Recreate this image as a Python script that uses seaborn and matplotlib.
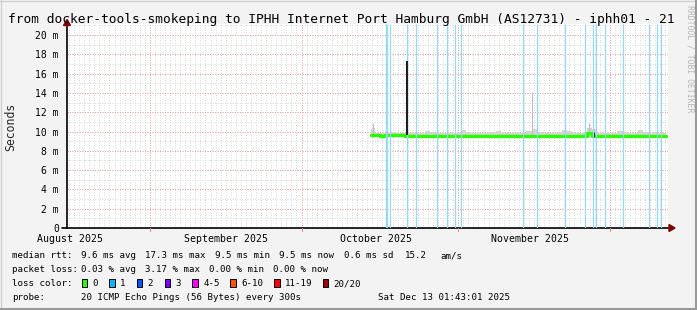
import numpy as np
import pandas as pd
import matplotlib
matplotlib.use("Agg")
import matplotlib.pyplot as plt
from matplotlib.patches import Polygon, Rectangle
from matplotlib.lines import Line2D
import seaborn as sns

# ---------------- data (x = days since 1 Aug 2025) ----------------
days = [74.7, 75, 76, 77, 78, 79, 80, 81, 82, 83, 84, 85, 86, 87, 88, 89, 90, 91,
        92, 93, 94, 95, 96, 97, 98, 99, 100, 101, 102, 103, 104, 105, 106, 107, 108,
        109, 110, 111, 112, 113, 114, 115, 116, 117, 118, 119, 120, 121, 122, 123,
        124, 125, 126, 127, 128, 129, 130, 131, 132, 133.1]
median_ms = [9.60, 9.61, 9.60, 9.59, 9.60, 9.61, 9.60, 9.60,
             9.53, 9.54, 9.53, 9.52, 9.53, 9.54, 9.53, 9.53, 9.52, 9.53,
             9.50, 9.51, 9.50, 9.49, 9.50, 9.50, 9.51, 9.50, 9.49, 9.50, 9.50, 9.51, 9.52,
             9.53, 9.54, 9.53, 9.52, 9.53, 9.53, 9.54, 9.53, 9.52, 9.53, 9.53, 9.52, 9.53,
             9.90,
             9.50, 9.51, 9.50, 9.49, 9.50, 9.50, 9.51, 9.50, 9.49, 9.50, 9.50, 9.51, 9.50, 9.50, 9.50]
smoke_top_ms = [10.3, 10.4, 9.9, 9.8, 9.85, 10.0, 9.9, 9.8, 9.8, 9.85, 9.8, 9.9, 10.1, 10.0,
                9.85, 9.8, 9.85, 9.9, 9.8, 10.2, 9.95, 9.85, 9.8, 9.85, 9.9, 10.0, 10.1, 9.9,
                9.8, 9.85, 9.8, 9.9, 10.1, 10.3, 10.0, 9.85, 9.8, 9.85, 10.0, 10.2, 10.1, 9.9,
                9.85, 10.0, 10.4, 10.3, 9.9, 9.85, 9.8, 9.9, 10.1, 9.95, 9.8, 9.85, 10.2, 9.95,
                9.85, 10.0, 9.85, 9.8]
smoke_floor_ms = 9.42
smoke_spike_days = [75.11, 106.57, 117.05, 117.85]
smoke_spike_tops = [10.9, 14.1, 11.9, 10.9]
rtt_spike_day = [81.84]
rtt_spike_top = [17.3]
step_mark_days = [104.8, 118.8]
step_mark_tops = [9.9, 9.95]
loss_days = [77.69, 77.95, 78.48, 81.84, 83.62, 87.78, 89.75, 91.34, 92.52, 104.79,
             107.56, 113.10, 117.05, 118.64, 119.23, 121.01, 124.57, 129.71, 131.30, 132.10]

month_starts = [31, 61, 92, 122]
month_label_pos = [15.27, 45.97, 75.7, 106.2]
month_labels = ["August 2025", "September 2025", "October 2025", "November 2025"]
ytick_vals = [0, 2, 4, 6, 8, 10, 12, 14, 16, 18, 20]
ytick_labels = ["0", "2 m", "4 m", "6 m", "8 m", "10 m", "12 m", "14 m", "16 m", "18 m", "20 m"]

loss_names = ["0", "1", "2", "3", "4-5", "6-10", "11-19", "20/20"]
loss_colors = ["#26ff00", "#00b8ff", "#0059ff", "#7e00ff", "#ff00ff", "#ff5500", "#ff0000", "#a10000"]

title = "from docker-tools-smokeping to IPHH Internet Port Hamburg GmbH (AS12731) - iphh01 - 21"

# ---------------- figure ----------------
sns.set_theme(style="white")
plt.rcParams["font.family"] = ["DejaVu Sans Mono", "DejaVu Sans"]

W, H = 697, 310
fig = plt.figure(figsize=(W / 100, H / 100), dpi=100, facecolor="#f3f3f3")
ax = fig.add_axes([67 / W, 82 / H, 601 / W, 204 / H])
ax.set_facecolor("white")
XMIN, XMAX, YMAX = 14.6, 133.5, 21.15
ax.set_xlim(XMIN, XMAX)
ax.set_ylim(0, YMAX)


def fx(x):
    return x / W


def fy(y):
    return 1 - y / H


# grid
dot = (0, (1, 1.5))
ax.vlines(np.arange(15, 134), 0, YMAX, colors="#dadada", linestyles=dot, lw=0.72, zorder=0)
ax.hlines(np.arange(1, 22), XMIN, XMAX, colors="#dadada", linestyles=dot, lw=0.72, zorder=0)
ax.vlines(month_starts, 0, YMAX, colors="#f3a3a3", linestyles=dot, lw=0.72, zorder=0.5)
ax.hlines(ytick_vals[1:], XMIN, XMAX, colors="#f3a3a3", linestyles=dot, lw=0.72, zorder=0.5)

# smoke
ax.fill_between(days, smoke_floor_ms, smoke_top_ms, step="mid", color="#d4d4d4", lw=0, zorder=1)
ax.vlines(smoke_spike_days, smoke_floor_ms, smoke_spike_tops, colors="#bdbdbd", lw=0.8, zorder=1.2)

# median line
df = pd.DataFrame({"day": days, "median": median_ms})
sns.lineplot(data=df, x="day", y="median", ax=ax, color="#26ff00", lw=2.4,
             drawstyle="steps-mid", zorder=3, legend=False)
ax.vlines(step_mark_days, 9.4, step_mark_tops, colors="#222222", lw=0.8, zorder=3.5)

# loss marks
ax.vlines(loss_days, 0, YMAX, colors="#97d8f3", lw=0.9, zorder=4)

# rtt spike
ax.vlines(rtt_spike_day, 9.6, rtt_spike_top, colors="#1e1e1e", lw=1.5, zorder=5)

# axes styling
for s in ["top", "right"]:
    ax.spines[s].set_visible(False)
for s in ["left", "bottom"]:
    ax.spines[s].set_color("black")
    ax.spines[s].set_linewidth(1.2)
ax.set_xlabel("")
ax.set_ylabel("")
ax.set_yticks(ytick_vals, ytick_labels)
ax.set_xticks(month_label_pos, month_labels)
ax.tick_params(axis="y", length=0, pad=5.8, labelsize=7, colors="black")
ax.tick_params(axis="x", length=0, pad=4.3, labelsize=7.1, colors="black")

# axis extension / small month ticks
fig.add_artist(Line2D([fx(62), fx(67)], [fy(228), fy(228)], color="black", lw=1.2))
for m in month_starts:
    ax.plot([m, m], [0, -0.3], color="#f08a8a", lw=0.8, clip_on=False, zorder=6)

# arrows
fig.add_artist(Polygon([[fx(669), fy(224.5)], [fx(669), fy(231.5)], [fx(675), fy(228)]],
                       closed=True, color="#7f0000", transform=fig.transFigure))
fig.add_artist(Polygon([[fx(63.5), fy(25.5)], [fx(70.5), fy(25.5)], [fx(67), fy(19.5)]],
                       closed=True, color="#7f0000", transform=fig.transFigure))

# texts
fig.text(fx(8), fy(23.5), title, fontsize=9.3, ha="left", va="baseline", color="black")
fig.text(fx(11), fy(127), "Seconds", rotation=90, ha="center", va="center", fontsize=8.3)
fig.text(fx(690), fy(5), "RRDTOOL / TOBI OETIKER", rotation=270, ha="center", va="top",
         fontsize=5.9, color="#b5b5b5")

fs = 6.6
rows = [
    (255, [(12.3, "median rtt:"), (80.7, "9.6 ms avg"), (145, "17.3 ms max"), (215, "9.5 ms min"),
           (279.3, "9.5 ms now"), (344, "0.6 ms sd"), (405, "15.2"), (440, "am/s")]),
    (268.5, [(12.3, "packet loss:"), (80.7, "0.03 % avg"), (145, "3.17 % max"),
             (209.3, "0.00 % min"), (273.3, "0.00 % now")]),
    (283, [(12.3, "loss color:")]),
    (296.5, [(12.3, "probe:"), (80.7, "20 ICMP Echo Pings (56 Bytes) every 300s")]),
]
for yy, items in rows:
    for xx, s in items:
        fig.text(fx(xx), fy(yy), s, fontsize=fs, ha="left", va="center_baseline", color="black")
fig.text(fx(510), fy(296.5), "Sat Dec 13 01:43:01 2025", fontsize=fs, ha="right",
         va="center_baseline", color="black")

sq_x = [81.7, 109, 136.7, 164.7, 192.3, 230, 274, 322.7]
lab_x = [92.3, 120, 147.7, 175.7, 203.3, 241, 285, 333.7]
for sx, lx, c, n in zip(sq_x, lab_x, loss_colors, loss_names):
    fig.add_artist(Rectangle((fx(sx), fy(287)), 5.7 / W, 8 / H, facecolor=c, edgecolor="black",
                             lw=0.7, transform=fig.transFigure))
    fig.text(fx(lx), fy(283), n, fontsize=fs, ha="left", va="center_baseline", color="black")

# frame
fig.add_artist(Line2D([0, 1], [fy(0.5), fy(0.5)], color="#d0d0d0", lw=1.0))
fig.add_artist(Line2D([fx(0.5), fx(0.5)], [0, 1], color="#d0d0d0", lw=1.0))
fig.add_artist(Line2D([0, 1], [fy(309), fy(309)], color="#9a9a9a", lw=1.5))
fig.add_artist(Line2D([fx(695.5), fx(695.5)], [0, 1], color="#9a9a9a", lw=2.2))

fig.savefig("out.png", dpi=100, facecolor=fig.get_facecolor())
